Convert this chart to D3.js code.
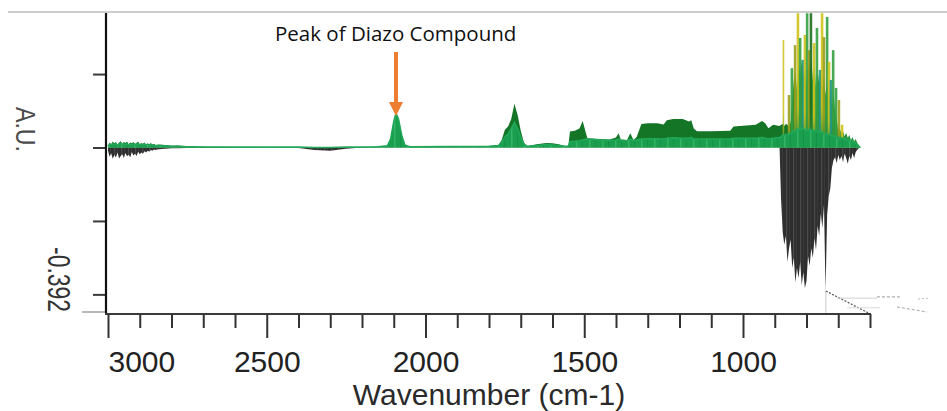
<!DOCTYPE html>
<html lang="en">
<head>
<meta charset="UTF-8">
<title>Peak of Diazo Compound</title>
<script src="https://d3js.org/d3.v7.min.js"></script>
<style>
    body { margin: 0; background: #fff; }
    svg { display: block; }
</style>
</head>
<body>
<div id="chart"></div>
<script>
// wavenumber grid shared by the three traces (cm-1)
const wavenumber = [3000, 2995, 2990, 2985, 2980, 2975, 2970, 2965, 2960, 2955,
    2950, 2945, 2940, 2935, 2930, 2925, 2920, 2915, 2910, 2905,
    2900, 2895, 2890, 2885, 2880, 2875, 2870, 2865, 2860, 2855,
    2850, 2840, 2820, 2800, 2780, 2750, 2700, 2600, 2500, 2400,
    2350, 2300, 2250, 2200, 2150, 2120, 2110, 2100, 2093, 2085,
    2075, 2065, 2050, 1800, 1770, 1760, 1750, 1740, 1730, 1720,
    1710, 1700, 1690, 1680, 1650, 1620, 1600, 1580, 1560, 1550,
    1545, 1530, 1515, 1505, 1495, 1490, 1450, 1420, 1400, 1392,
    1385, 1365, 1355, 1345, 1335, 1320, 1300, 1270, 1250, 1240,
    1220, 1190, 1170, 1163, 1155, 1145, 1100, 1040, 1030, 1000,
    960, 940, 930, 920, 905, 885, 880, 875, 870, 865,
    860, 855, 850, 845, 840, 835, 830, 825, 820, 815,
    810, 805, 800, 795, 790, 785, 780, 775, 770, 765,
    760, 755, 750, 745, 740, 735, 730, 725, 720, 715,
    710, 705, 700, 695, 690, 685, 680, 675, 670, 665,
    660, 655, 650, 645, 640, 635, 630];

// back (dark green) trace, A.U.
const upperTrace = [0.004, 0.012, 0.008, 0.014, 0.010, 0.013, 0.007, 0.012, 0.015, 0.009,
    0.013, 0.011, 0.014, 0.008, 0.012, 0.010, 0.013, 0.009, 0.011, 0.014,
    0.008, 0.011, 0.009, 0.012, 0.007, 0.010, 0.008, 0.011, 0.007, 0.009,
    0.006, 0.007, 0.006, 0.004, 0.005, 0.003, 0.002, 0.001, 0.001, 0.001,
    0.000, 0.000, 0.001, 0.001, 0.002, 0.004, 0.020, 0.062, 0.082, 0.068,
    0.030, 0.006, 0.002, 0.003, 0.006, 0.018, 0.042, 0.050, 0.068, 0.104,
    0.078, 0.040, 0.012, 0.003, 0.008, 0.011, 0.010, 0.008, 0.003, 0.004,
    0.038, 0.040, 0.045, 0.063, 0.035, 0.022, 0.020, 0.019, 0.024, 0.034,
    0.019, 0.018, 0.034, 0.018, 0.025, 0.056, 0.058, 0.058, 0.055, 0.065,
    0.068, 0.068, 0.062, 0.065, 0.045, 0.039, 0.039, 0.040, 0.050, 0.052,
    0.054, 0.063, 0.058, 0.046, 0.054, 0.051, 0.054, 0.056, 0.051, 0.056,
    0.054, 0.049, 0.061, 0.113, 0.161, 0.180, 0.137, 0.197, 0.173, 0.209,
    0.166, 0.189, 0.149, 0.204, 0.175, 0.213, 0.161, 0.194, 0.142, 0.185,
    0.152, 0.180, 0.137, 0.170, 0.125, 0.161, 0.113, 0.149, 0.101, 0.132,
    0.089, 0.066, 0.042, 0.046, 0.032, 0.039, 0.027, 0.035, 0.023, 0.030,
    0.018, 0.025, 0.015, 0.020, 0.011, 0.006, 0.000];

// front (bright green) trace, A.U.
const lowerTrace = [0.003, 0.008, 0.006, 0.009, 0.007, 0.009, 0.005, 0.008, 0.010, 0.006,
    0.009, 0.007, 0.009, 0.006, 0.008, 0.007, 0.009, 0.006, 0.007, 0.009,
    0.006, 0.007, 0.006, 0.008, 0.005, 0.007, 0.005, 0.007, 0.005, 0.006,
    0.004, 0.005, 0.004, 0.003, 0.003, 0.002, 0.001, 0.001, 0.001, 0.001,
    0.000, 0.000, 0.001, 0.001, 0.002, 0.004, 0.020, 0.062, 0.082, 0.068,
    0.030, 0.006, 0.002, 0.003, 0.005, 0.012, 0.025, 0.032, 0.045, 0.060,
    0.045, 0.025, 0.008, 0.003, 0.005, 0.007, 0.006, 0.005, 0.003, 0.003,
    0.014, 0.015, 0.016, 0.018, 0.020, 0.020, 0.018, 0.017, 0.018, 0.020,
    0.017, 0.016, 0.020, 0.016, 0.018, 0.020, 0.021, 0.021, 0.020, 0.022,
    0.023, 0.022, 0.022, 0.024, 0.020, 0.020, 0.020, 0.021, 0.022, 0.022,
    0.022, 0.024, 0.022, 0.020, 0.022, 0.024, 0.026, 0.030, 0.028, 0.032,
    0.030, 0.034, 0.032, 0.036, 0.040, 0.038, 0.045, 0.040, 0.048, 0.042,
    0.046, 0.040, 0.044, 0.038, 0.045, 0.040, 0.043, 0.038, 0.042, 0.036,
    0.040, 0.035, 0.038, 0.032, 0.034, 0.030, 0.032, 0.028, 0.030, 0.026,
    0.028, 0.024, 0.025, 0.022, 0.024, 0.020, 0.022, 0.018, 0.020, 0.016,
    0.017, 0.013, 0.012, 0.009, 0.006, 0.003, 0.000];

// negative (black) trace, A.U.
const negTrace = [-0.008, -0.022, -0.014, -0.027, -0.018, -0.024, -0.012, -0.026, -0.020, -0.016,
    -0.025, -0.013, -0.021, -0.017, -0.023, -0.011, -0.019, -0.015, -0.020, -0.010,
    -0.016, -0.012, -0.015, -0.009, -0.012, -0.008, -0.010, -0.006, -0.008, -0.005,
    -0.006, -0.004, -0.003, -0.002, -0.002, -0.001, -0.001, -0.001, 0.000, -0.001,
    -0.006, -0.008, -0.003, 0, 0, 0, 0, 0, 0, 0,
    0, 0, 0, 0, 0, 0, 0, 0, 0, 0,
    0, 0, 0, 0, 0, 0, 0, 0, 0, 0,
    0, 0, 0, 0, 0, 0, 0, 0, 0, 0,
    0, 0, 0, 0, 0, 0, 0, 0, 0, 0,
    0, 0, 0, 0, 0, 0, 0, 0, 0, 0,
    0, 0, 0, 0, 0, 0, -0.125, -0.201, -0.232, -0.211,
    -0.273, -0.240, -0.220, -0.287, -0.263, -0.321, -0.287, -0.311, -0.273, -0.328,
    -0.297, -0.335, -0.318, -0.259, -0.282, -0.240, -0.263, -0.216, -0.244, -0.187,
    -0.211, -0.158, -0.192, -0.137, -0.342, -0.161, -0.116, -0.097, -0.049, -0.030,
    -0.023, -0.037, -0.018, -0.030, -0.020, -0.035, -0.015, -0.025, -0.039, -0.020,
    -0.030, -0.013, -0.025, -0.011, -0.006, -0.001, 0];

// sharp spikes in the fingerprint region
const spikeWn = [871, 855, 846, 836, 827, 820, 811, 805, 798, 792, 786, 776,
    767, 757, 751, 745, 735, 729, 723, 716, 707, 698, 688];
const spikeVal = [0.256, 0.125, 0.189, 0.244, 0.32, 0.261, 0.209, 0.268, 0.32, 0.232, 0.32, 0.249,
    0.285, 0.185, 0.32, 0.263, 0.311, 0.204, 0.161, 0.232, 0.142, 0.113, 0.054];
const spikeSeries = ['yellow', 'olive', 'green', 'olive', 'yellow', 'green', 'teal', 'yellow', 'green', 'olive', 'dark', 'yellow',
    'green', 'teal', 'yellow', 'olive', 'green', 'yellow', 'teal', 'green', 'green', 'olive', 'yellow'];

// faint perspective lines under the plot
const floorWn0 = [739, 739, 704, 578, 449, 672, 515];
const floorWn1 = [739, 603, 578, 505, 411, 568, 420];
const floorVal0 = [-0.342, -0.342, -0.359, -0.356, -0.361, -0.382, -0.380];
const floorVal1 = [-0.394, -0.395, -0.359, -0.356, -0.359, -0.382, -0.392];

const xTicksMajor = [3000, 2500, 2000, 1500, 1000];
const xTicksMinor = [2900, 2800, 2700, 2600, 2400, 2300, 2200, 2100, 1900, 1800, 1700, 1600,
    1400, 1300, 1200, 1100, 900, 800, 700, 600];
const yTicks = [0.175, 0, -0.175, -0.35];
const yMin = -0.392;
const yMax = 0.3205;
const yMinLabel = '-0.392';
const yTitle = 'A.U.';
const xTitle = 'Wavenumber (cm-1)';
const annotation = 'Peak of Diazo Compound';
const annotationWn = 2093;

const w = 947;
const h = 411;

const xScale = d3.scaleLinear().domain([3000, 600]).range([108, 870]);
const yScale = d3.scaleLinear().domain([yMin, yMax]).range([312, 13]);

const toneTop = { yellow: '#cfc21c', olive: '#9a9f1c', green: '#33a040', dark: '#1e6e1a', teal: '#22958a' };

const svg = d3.select('#chart')
    .append('svg')
    .attr('width', w)
    .attr('height', h)
    .style('font-family', '"Liberation Sans", Arial, sans-serif');

const defs = svg.append('defs');

// upper trace goes from dark green to a lighter green in the fingerprint block
const upGrad = defs.append('linearGradient')
    .attr('id', 'up-grad')
    .attr('gradientUnits', 'userSpaceOnUse')
    .attr('x1', xScale(3000)).attr('x2', xScale(600))
    .attr('y1', 0).attr('y2', 0);
const fpStart = (xScale(848) - xScale(3000)) / (xScale(600) - xScale(3000));
const fpFull = (xScale(835) - xScale(3000)) / (xScale(600) - xScale(3000));
upGrad.append('stop').attr('offset', 0).attr('stop-color', '#127428');
upGrad.append('stop').attr('offset', fpStart).attr('stop-color', '#157526');
upGrad.append('stop').attr('offset', fpFull).attr('stop-color', '#2a953e');
upGrad.append('stop').attr('offset', 1).attr('stop-color', '#2a953e');

Object.keys(toneTop).forEach(k => {
    const g = defs.append('linearGradient')
        .attr('id', 'spike-' + k)
        .attr('x1', 0).attr('x2', 0).attr('y1', 0).attr('y2', 1);
    g.append('stop').attr('offset', 0).attr('stop-color', toneTop[k]);
    g.append('stop').attr('offset', 0.7).attr('stop-color', toneTop[k]);
    g.append('stop').attr('offset', 1).attr('stop-color', '#2c8f3c');
});

// streaky textures for the waterfall look
const negPat = defs.append('pattern')
    .attr('id', 'neg-pat')
    .attr('patternUnits', 'userSpaceOnUse')
    .attr('width', 7).attr('height', 10);
negPat.append('rect').attr('width', 7).attr('height', 10).attr('fill', '#2e2e2e');
negPat.append('rect').attr('x', 2).attr('width', 1.2).attr('height', 10).attr('fill', '#4a4a4a');
negPat.append('rect').attr('x', 5).attr('width', 0.8).attr('height', 10).attr('fill', '#3c3c3c');

const lowPat = defs.append('pattern')
    .attr('id', 'low-pat')
    .attr('patternUnits', 'userSpaceOnUse')
    .attr('width', 13).attr('height', 10);
lowPat.append('rect').attr('width', 13).attr('height', 10).attr('fill', '#1a9f4e');
lowPat.append('rect').attr('x', 4).attr('width', 1.5).attr('height', 10).attr('fill', '#35b466');
lowPat.append('rect').attr('x', 10).attr('width', 1).attr('height', 10).attr('fill', '#15924a');

// frame line at the top
svg.append('line')
    .attr('x1', 8).attr('x2', w)
    .attr('y1', 12).attr('y2', 12)
    .style('stroke', '#bdbdbd')
    .style('stroke-width', 1.5);

svg.append('clipPath').attr('id', 'plot-clip')
    .append('rect')
    .attr('x', 107).attr('y', 13)
    .attr('width', 780).attr('height', 300);

const plot = svg.append('g').attr('clip-path', 'url(#plot-clip)');

const points = wavenumber.map((wn, i) => ({ wn: wn, up: upperTrace[i], low: lowerTrace[i], neg: negTrace[i] }));

const area = key => d3.area()
    .x(d => xScale(d.wn))
    .y0(yScale(0))
    .y1(d => yScale(d[key]));

plot.append('path')
    .datum(points)
    .attr('d', area('neg'))
    .attr('fill', 'url(#neg-pat)');

plot.append('path')
    .datum(points)
    .attr('d', area('up'))
    .attr('fill', 'url(#up-grad)');

plot.selectAll('rect.spike')
    .data(spikeWn)
    .enter()
    .append('rect')
    .attr('class', 'spike')
    .attr('x', d => xScale(d) - 1.3)
    .attr('width', (d, i) => i === 0 ? 1.6 : 2.6)
    .attr('y', (d, i) => yScale(spikeVal[i]))
    .attr('height', (d, i) => yScale(0) - yScale(spikeVal[i]))
    .attr('fill', (d, i) => 'url(#spike-' + spikeSeries[i] + ')')
    .attr('opacity', 0.9);

plot.append('path')
    .datum(points)
    .attr('d', area('low'))
    .attr('fill', 'url(#low-pat)');

plot.append('path')
    .datum(points)
    .attr('d', d3.line().x(d => xScale(d.wn)).y(d => yScale(d.low)))
    .attr('fill', 'none')
    .attr('stroke', '#22a85a')
    .attr('stroke-width', 1.5);

// perspective floor
const floorStyles = [
    { c: '#c8c8c8', dash: null, sw: 1 },
    { c: '#555', dash: '2,1.5', sw: 1.2 },
    { c: '#d0d0d0', dash: null, sw: 1 },
    { c: '#9a9a9a', dash: '3,2', sw: 1 },
    { c: '#bbbbbb', dash: '2,2', sw: 1 },
    { c: '#dcdcdc', dash: null, sw: 1 },
    { c: '#a8a8a8', dash: '3,2', sw: 1 }
];
svg.selectAll('line.floor')
    .data(floorWn0)
    .enter()
    .append('line')
    .attr('class', 'floor')
    .attr('x1', d => xScale(d))
    .attr('x2', (d, i) => xScale(floorWn1[i]))
    .attr('y1', (d, i) => yScale(floorVal0[i]))
    .attr('y2', (d, i) => yScale(floorVal1[i]))
    .style('stroke', (d, i) => floorStyles[i].c)
    .style('stroke-dasharray', (d, i) => floorStyles[i].dash)
    .style('stroke-width', (d, i) => floorStyles[i].sw);

// y axis
const yAxis = d3.axisLeft(yScale)
    .tickValues(yTicks)
    .tickSize(13)
    .tickSizeOuter(0)
    .tickFormat('');
svg.append('g')
    .attr('id', 'y-axis')
    .attr('transform', 'translate(106, 0)')
    .call(yAxis)
    .call(g => g.select('.domain').remove())
    .call(g => g.selectAll('.tick line').style('stroke', '#3a3a3a').style('stroke-width', 2));

svg.append('line')
    .attr('x1', 82).attr('x2', 106)
    .attr('y1', yScale(yMin)).attr('y2', yScale(yMin))
    .style('stroke', '#8a8a8a')
    .style('stroke-width', 1.2);

svg.append('line')
    .attr('x1', 106).attr('x2', 106)
    .attr('y1', yScale(yMax)).attr('y2', yScale(yMin) + 1)
    .style('stroke', '#111')
    .style('stroke-width', 2.2);

// x axis
svg.append('line')
    .attr('x1', 105).attr('x2', xScale(600) + 1)
    .attr('y1', 314).attr('y2', 314)
    .style('stroke', '#3a3a3a')
    .style('stroke-width', 2);

const xMinor = d3.axisBottom(xScale).tickValues(xTicksMinor).tickSize(14).tickSizeOuter(0).tickFormat('');
svg.append('g')
    .attr('transform', 'translate(0, 314)')
    .call(xMinor)
    .call(g => g.select('.domain').remove())
    .call(g => g.selectAll('.tick line').style('stroke', '#333').style('stroke-width', 2));

const xAxis = d3.axisBottom(xScale).tickValues(xTicksMajor).tickSize(24).tickSizeOuter(0).tickFormat(d3.format('d'));
svg.append('g')
    .attr('id', 'x-axis')
    .attr('transform', 'translate(0, 314)')
    .call(xAxis)
    .call(g => g.select('.domain').remove())
    .call(g => g.selectAll('.tick line').style('stroke', '#333').style('stroke-width', 2))
    .call(g => g.selectAll('.tick text')
        .attr('y', 58)
        .attr('dy', 0)
        .style('font-family', '"Liberation Sans", Arial, sans-serif')
        .style('font-size', '30px')
        .style('fill', '#222')
        .attr('text-anchor', d => d === 3000 ? 'start' : 'middle'));

svg.append('text')
    .attr('x', (xScale(3000) + xScale(600)) / 2)
    .attr('y', 405)
    .attr('text-anchor', 'middle')
    .style('font-size', '30px')
    .style('fill', '#2a2a2a')
    .text(xTitle);

// rotated y labels
svg.append('text')
    .attr('transform', 'translate(16, 107) rotate(90)')
    .attr('text-anchor', 'start')
    .attr('textLength', 45)
    .attr('lengthAdjust', 'spacingAndGlyphs')
    .style('font-size', '27px')
    .style('fill', '#4a4a4a')
    .text(yTitle);

svg.append('text')
    .attr('transform', 'translate(48, ' + yScale(yMin) + ') rotate(90)')
    .attr('text-anchor', 'end')
    .attr('textLength', 65)
    .attr('lengthAdjust', 'spacingAndGlyphs')
    .style('font-size', '31px')
    .style('fill', '#333')
    .text(yMinLabel);

// annotation
const ax = xScale(annotationWn);
svg.append('line')
    .attr('x1', ax).attr('x2', ax)
    .attr('y1', 52).attr('y2', 104)
    .style('stroke', '#ED7D31')
    .style('stroke-width', 4);
svg.append('path')
    .attr('d', 'M' + (ax - 7) + ',102L' + (ax + 7) + ',102L' + ax + ',116Z')
    .attr('fill', '#ED7D31');

svg.append('text')
    .attr('x', 275)
    .attr('y', 41)
    .style('font-family', '"Open Sans", sans-serif')
    .style('font-size', '20.5px')
    .style('fill', '#111')
    .text(annotation);
</script>
</body>
</html>
